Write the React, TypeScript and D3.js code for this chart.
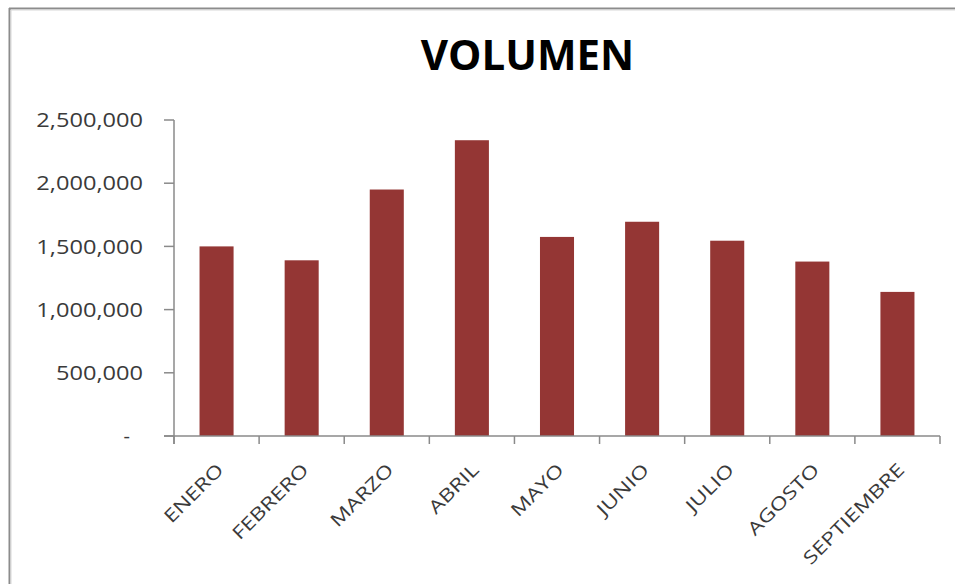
import React from 'react';
import * as d3 from 'd3';

const months = ['ENERO', 'FEBRERO', 'MARZO', 'ABRIL', 'MAYO', 'JUNIO', 'JULIO', 'AGOSTO', 'SEPTIEMBRE'];
const volumes = [1500000, 1390000, 1950000, 2340000, 1575000, 1695000, 1545000, 1380000, 1140000];
const yTicks = [0, 500000, 1000000, 1500000, 2000000, 2500000];
const title = 'VOLUMEN';

const W = 955;
const H = 584;

export default function App() {
  const ref = React.useRef<SVGSVGElement>(null);

  React.useEffect(() => {
    if (!ref.current) return;
    const svg = d3.select(ref.current);
    svg.selectAll('*').remove();

    const left = 174, right = 940, top = 120, bottom = 436;
    const axisColor = '#8a8a8a';
    const labelColor = '#3a3a3a';

    // frame (only top and left edges visible in the capture)
    svg.append('line').attr('x1', 9).attr('x2', W).attr('y1', 8.5).attr('y2', 8.5)
      .attr('stroke', '#8c8c8c').attr('stroke-width', 2);
    svg.append('line').attr('x1', 9.5).attr('x2', 9.5).attr('y1', 8).attr('y2', H)
      .attr('stroke', '#8c8c8c').attr('stroke-width', 2);
    svg.append('line').attr('x1', 11).attr('x2', W).attr('y1', 10).attr('y2', 10)
      .attr('stroke', '#d8d8d8').attr('stroke-width', 1);
    svg.append('line').attr('x1', 11).attr('x2', 11).attr('y1', 10).attr('y2', H)
      .attr('stroke', '#d8d8d8').attr('stroke-width', 1);

    const x = d3.scaleBand<string>().domain(months).range([left, right])
      .paddingInner(0.6).paddingOuter(0.3);
    const y = d3.scaleLinear().domain([0, 2500000]).range([bottom, top]);
    const step = x.step();

    // title
    svg.append('text')
      .attr('x', 527.5).attr('y', 70)
      .attr('text-anchor', 'middle')
      .attr('font-family', '"Open Sans", sans-serif')
      .attr('font-weight', 700)
      .attr('font-size', 42)
      .attr('fill', '#000')
      .text(title);

    // bars
    svg.append('g').selectAll('rect')
      .data(months)
      .join('rect')
      .attr('x', d => x(d)!)
      .attr('width', x.bandwidth())
      .attr('y', (d, i) => y(volumes[i]))
      .attr('height', (d, i) => bottom - y(volumes[i]))
      .attr('fill', '#943634');

    // y axis
    const ya = svg.append('g');
    ya.append('line').attr('x1', left).attr('x2', left).attr('y1', top).attr('y2', bottom + 8)
      .attr('stroke', axisColor).attr('stroke-width', 1.5);
    ya.selectAll('line.tick').data(yTicks).join('line')
      .attr('class', 'tick')
      .attr('x1', left - 10).attr('x2', left)
      .attr('y1', d => y(d)).attr('y2', d => y(d))
      .attr('stroke', axisColor).attr('stroke-width', 1.5);
    const fmt = d3.format(',');
    ya.selectAll('text').data(yTicks).join('text')
      .attr('x', d => (d === 0 ? 130 : 143))
      .attr('y', d => y(d))
      .attr('dy', '0.36em')
      .attr('text-anchor', 'end')
      .attr('font-family', '"Open Sans", sans-serif')
      .attr('font-size', 20)
      .attr('fill', labelColor)
      .text(d => (d === 0 ? '-' : fmt(d)))
      .each(function () {
        const t = this as SVGTextElement;
        const L = t.getComputedTextLength();
        if (L > 10) {
          t.setAttribute('textLength', String(L * 1.18));
          t.setAttribute('lengthAdjust', 'spacingAndGlyphs');
        }
      });

    // x axis
    const xa = svg.append('g');
    xa.append('line').attr('x1', left - 10).attr('x2', right).attr('y1', bottom).attr('y2', bottom)
      .attr('stroke', axisColor).attr('stroke-width', 1.5);
    const bounds = d3.range(months.length + 1).map(i => left + i * step);
    xa.selectAll('line.tick').data(bounds).join('line')
      .attr('class', 'tick')
      .attr('x1', d => d).attr('x2', d => d)
      .attr('y1', bottom).attr('y2', bottom + 8)
      .attr('stroke', axisColor).attr('stroke-width', 1.5);
    xa.selectAll('text').data(months).join('text')
      .attr('font-family', '"Open Sans", sans-serif')
      .attr('font-size', 18)
      .attr('fill', labelColor)
      .text(d => d)
      .each(function (d) {
        const t = this as SVGTextElement;
        const L = t.getComputedTextLength() * 1.28;
        t.setAttribute('textLength', String(L));
        t.setAttribute('lengthAdjust', 'spacingAndGlyphs');
        const cx = x(d)! + x.bandwidth() / 2;
        t.setAttribute('x', String(-L));
        t.setAttribute('transform', `translate(${cx + 8},${471}) rotate(-45)`);
      });
  }, []);

  return (
    <svg
      ref={ref}
      width={W}
      height={H}
      style={{ position: 'absolute', left: 0, top: 0, background: '#fff' }}
    />
  );
}
